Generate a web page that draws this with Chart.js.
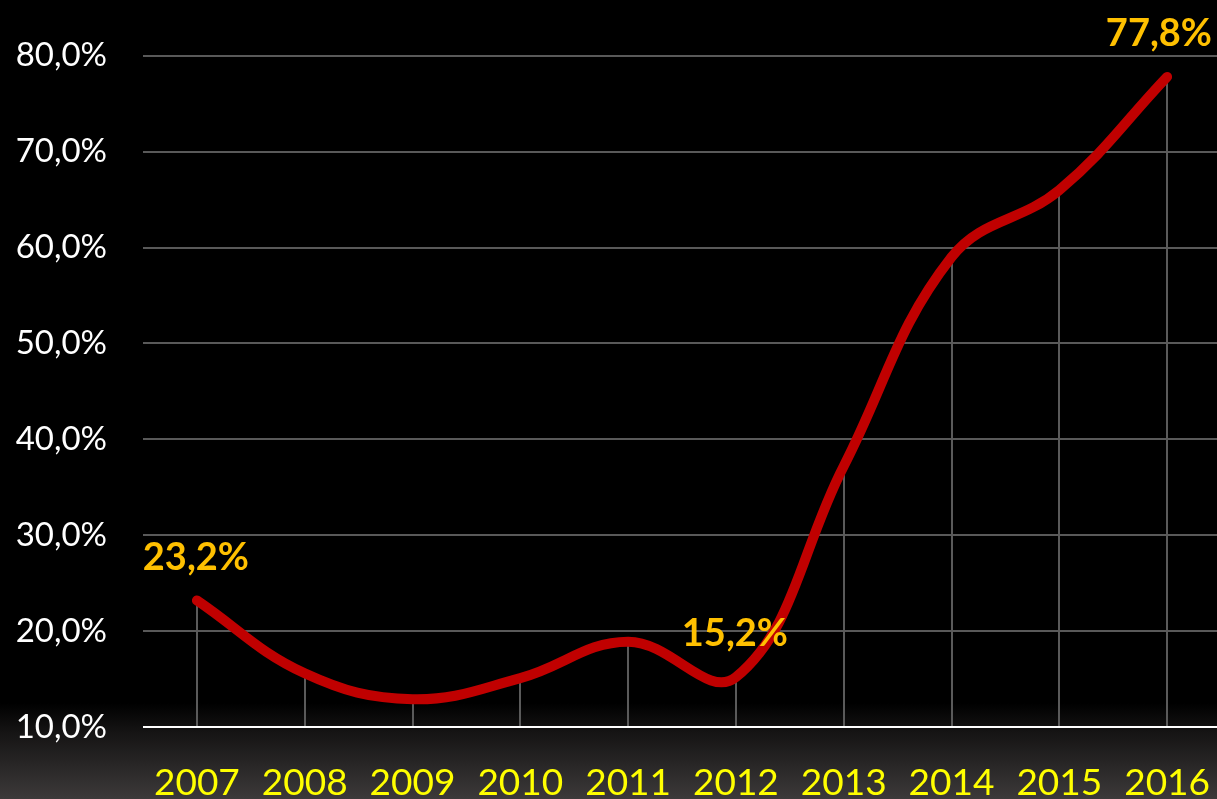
<!DOCTYPE html>
<html><head><meta charset="utf-8">
<script src="https://cdn.jsdelivr.net/npm/chart.js@4/dist/chart.umd.min.js"></script>
<style>
html,body{margin:0;padding:0;background:#000;overflow:hidden;width:1217px;height:799px;}
#wrap{width:1217px;height:799px;overflow:hidden;position:relative;}
canvas{display:block;}
</style></head>
<body><div id="wrap"><canvas id="c" width="1225" height="830"></canvas></div>
<script>
const years = ['2007','2008','2009','2010','2011','2012','2013','2014','2015','2016'];
const shares = [23.2, 15.6, 12.9, 15.1, 18.9, 15.2, 37.2, 59.0, 66.0, 77.8];
const labeledYears = ['2007','2012','2016'];
const yTicks = [10, 20, 30, 40, 50, 60, 70, 80];

const fmt = v => v.toFixed(1).replace('.', ',') + '%';
const VISIBLE_W = 1217;

const bgPlugin = {
  id: 'bg',
  beforeDraw(chart) {
    const ctx = chart.ctx;
    ctx.save();
    ctx.fillStyle = '#000';
    ctx.fillRect(0, 0, chart.width, chart.height);
    const y0 = chart.chartArea.bottom - 24;
    const g = ctx.createLinearGradient(0, y0, 0, 800);
    g.addColorStop(0, '#000000');
    g.addColorStop(0.3, '#151414');
    g.addColorStop(1, '#3d3a3a');
    ctx.fillStyle = g;
    ctx.fillRect(0, y0, chart.width, chart.height - y0);
    ctx.restore();
  }
};

const dropPlugin = {
  id: 'drops',
  beforeDatasetsDraw(chart) {
    const ctx = chart.ctx;
    const meta = chart.getDatasetMeta(0);
    const bottom = chart.scales.y.getPixelForValue(yTicks[0]);
    ctx.save();
    ctx.strokeStyle = '#5a5a5a';
    ctx.lineWidth = 2;
    meta.data.forEach(p => {
      ctx.beginPath();
      ctx.moveTo(Math.round(p.x), p.y);
      ctx.lineTo(Math.round(p.x), bottom);
      ctx.stroke();
    });
    ctx.strokeStyle = '#ffffff';
    ctx.lineWidth = 2;
    ctx.beginPath();
    ctx.moveTo(chart.chartArea.left, bottom);
    ctx.lineTo(chart.width, bottom);
    ctx.stroke();
    ctx.restore();
  }
};

const labelPlugin = {
  id: 'vlabels',
  afterDatasetsDraw(chart) {
    const ctx = chart.ctx;
    const meta = chart.getDatasetMeta(0);
    ctx.save();
    ctx.fillStyle = '#ffc000';
    ctx.font = 'bold 38px Lato';
    ctx.textAlign = 'center';
    ctx.textBaseline = 'middle';
    years.forEach((yr, i) => {
      if (!labeledYears.includes(yr)) return;
      const p = meta.data[i];
      const txt = fmt(shares[i]);
      const w = ctx.measureText(txt).width;
      const x = Math.min(p.x - 1, VISIBLE_W - 5 - w / 2);
      ctx.fillText(txt, x, p.y - 43);
    });
    ctx.restore();
  }
};

new Chart(document.getElementById('c'), {
  type: 'line',
  data: {
    labels: years,
    datasets: [{
      data: shares,
      borderColor: '#c00000',
      borderWidth: 10,
      borderCapStyle: 'round',
      borderJoinStyle: 'round',
      tension: 0.4,
      pointRadius: 0,
      fill: false,
      clip: false
    }]
  },
  options: {
    responsive: false,
    devicePixelRatio: 1,
    animation: false,
    layout: { padding: { top: 53, right: 4, left: 0, bottom: 0 } },
    plugins: { legend: { display: false }, tooltip: { enabled: false } },
    scales: {
      x: {
        offset: true,
        afterFit(s) { s.height = 103; s.paddingLeft = 0; s.paddingRight = 0; },
        grid: { display: false, drawTicks: false },
        border: { display: false },
        ticks: { color: '#ffff00', font: { family: 'Lato', size: 37 }, padding: 34, maxRotation: 0, autoSkip: false }
      },
      y: {
        min: 10, max: 80,
        afterFit(s) { s.width = 143; },
        afterBuildTicks(s) { s.ticks = yTicks.map(v => ({ value: v })); },
        grid: { color: ctx => ctx.tick && ctx.tick.value === 10 ? 'rgba(0,0,0,0)' : '#595959', lineWidth: 2, drawTicks: false },
        border: { display: false },
        ticks: { color: '#ffffff', font: { family: 'Lato', size: 33 }, padding: 36, callback: v => fmt(v) }
      }
    }
  },
  plugins: [bgPlugin, dropPlugin, labelPlugin]
});
</script>
</body></html>
